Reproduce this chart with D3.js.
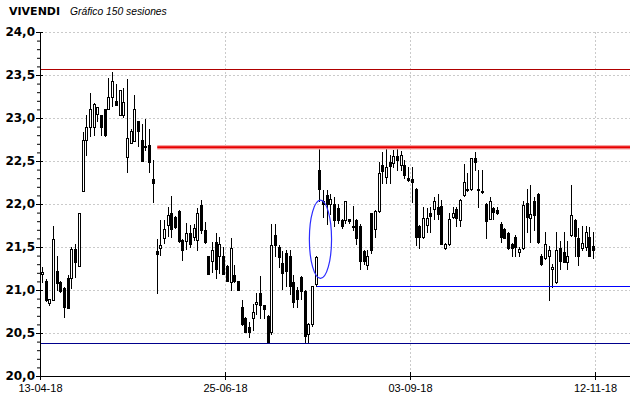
<!DOCTYPE html>
<html>
<head>
<meta charset="utf-8">
<script src="https://cdn.jsdelivr.net/npm/d3@7"></script>
<style>
body { margin: 0; background: #fff; }
svg { display: block; }
.ylab { font-family: "DejaVu Sans", sans-serif; font-weight: bold; font-size: 12px; fill: #000; }
.xlab { font-family: "Liberation Sans", Arial, sans-serif; font-size: 11px; fill: #000; }
.title { font-family: "DejaVu Sans", sans-serif; font-weight: bold; font-size: 11px; }
.subtitle { font-family: "Liberation Sans", Arial, sans-serif; font-style: italic; font-size: 10.3px; }
</style>
</head>
<body>
<div id="vis"></div>
<script>
// 150 sessions
var opens = [21.19,21.10,20.85,20.88,21.22,21.09,21.02,21.14,21.14,21.48,21.28,22.15,22.75,22.89,22.89,23.05,23.03,23.11,23.10,23.25,
  23.20,23.03,23.03,22.55,22.71,22.73,22.96,22.75,22.68,22.69,22.29,21.45,21.49,21.61,21.76,21.89,21.85,21.92,21.58,21.57,
  21.66,21.62,21.58,21.99,21.70,21.39,21.34,21.56,21.39,21.40,21.28,21.09,21.18,21.10,20.80,20.68,20.57,20.67,20.84,20.96,
  20.82,20.70,20.51,21.64,21.50,21.31,21.43,21.40,21.09,21.00,21.15,20.99,20.49,20.60,21.07,22.39,22.04,22.10,22.00,22.00,
  21.95,21.81,21.81,21.82,21.75,21.81,21.75,21.45,21.29,21.89,21.71,21.92,22.45,22.31,22.49,22.48,22.56,22.45,22.45,22.30,
  22.29,22.17,21.75,21.62,21.76,21.89,21.94,21.97,21.98,21.49,21.53,21.85,21.94,21.81,22.10,22.17,22.17,22.54,22.18,22.15,
  22.00,21.83,21.95,21.93,21.77,21.71,21.66,21.54,21.62,21.44,21.49,22.01,21.84,22.03,22.12,21.39,21.37,21.39,21.24,21.09,
  21.49,21.44,21.33,21.64,21.81,21.60,21.49,21.50,21.62,21.51];
var highs = [21.27,21.13,20.89,21.74,21.39,21.11,21.03,21.17,21.50,21.54,21.89,22.84,23.03,23.29,23.17,23.13,23.03,23.11,23.47,23.54,
  23.40,23.33,23.35,23.45,22.87,23.27,22.96,22.93,22.99,22.87,22.51,21.59,21.81,21.81,21.96,22.09,21.86,21.93,21.59,21.78,
  21.76,21.77,21.95,22.05,21.79,21.40,21.56,21.66,21.62,21.50,21.29,21.61,21.29,21.11,20.88,20.69,20.63,20.84,20.96,21.16,
  20.83,20.71,21.77,21.77,21.52,21.45,21.47,21.46,21.17,21.03,21.16,21.00,20.62,21.05,21.39,22.67,22.16,22.16,22.12,22.08,
  22.00,21.83,22.04,21.83,21.98,21.82,21.77,21.46,21.46,21.90,21.93,22.49,22.60,22.64,22.57,22.63,22.67,22.62,22.51,22.43,
  22.43,22.19,21.76,21.97,21.95,21.97,22.08,22.12,22.05,21.55,21.89,21.96,21.96,22.06,22.47,22.36,22.54,22.61,22.40,22.40,
  22.01,22.08,21.96,21.97,21.79,21.72,21.67,21.55,21.64,21.50,22.03,22.17,22.22,22.08,22.13,21.42,21.67,21.51,21.30,21.68,
  21.57,21.67,21.57,22.22,21.82,21.72,21.74,21.74,21.73,21.68];
var lows = [21.09,20.87,20.83,20.88,21.00,20.98,20.69,20.79,21.02,21.15,21.28,22.15,22.57,22.79,22.80,22.96,22.80,22.79,23.10,23.14,
  23.15,23.03,23.01,22.37,22.71,22.73,22.68,22.50,22.63,22.37,22.02,20.96,21.41,21.55,21.63,21.62,21.72,21.56,21.35,21.48,
  21.50,21.58,21.46,21.66,21.55,21.19,21.21,21.14,21.20,21.19,21.10,21.00,21.09,21.00,20.59,20.51,20.45,20.53,20.72,20.67,
  20.67,20.39,20.49,21.39,21.27,21.01,21.05,20.95,20.80,20.80,20.90,20.39,20.40,20.58,21.05,22.04,21.85,21.77,21.88,21.75,
  21.78,21.72,21.78,21.78,21.70,21.54,21.25,21.30,21.25,21.43,21.62,21.91,22.25,22.25,22.24,22.43,22.40,22.40,22.30,22.27,
  22.02,21.52,21.49,21.60,21.67,21.68,21.83,21.82,21.53,21.48,21.52,21.84,21.75,21.75,22.09,22.15,22.16,22.40,21.97,22.13,
  21.60,21.82,21.82,21.88,21.56,21.60,21.48,21.39,21.39,21.39,21.48,21.67,21.56,21.70,21.55,21.29,21.36,20.88,21.04,21.08,
  21.24,21.32,21.24,21.63,21.40,21.29,21.46,21.46,21.39,21.37];
var closes = [21.21,20.88,20.89,21.59,21.08,20.99,20.80,20.79,21.48,21.32,21.89,22.74,22.89,23.11,23.16,23.13,22.89,22.80,23.25,23.43,
  23.15,23.32,23.19,22.77,22.85,23.10,22.85,22.50,22.66,22.49,22.24,21.42,21.52,21.71,21.87,21.71,21.73,21.57,21.46,21.66,
  21.53,21.72,21.89,21.70,21.56,21.19,21.46,21.25,21.54,21.19,21.10,21.49,21.10,21.00,20.61,20.51,20.51,20.75,20.86,20.82,
  20.78,20.39,21.52,21.52,21.38,21.20,21.22,21.05,20.86,20.90,20.99,20.47,20.60,21.05,21.38,22.18,22.00,22.00,22.06,21.81,
  21.81,21.75,22.03,21.80,21.73,21.60,21.34,21.34,21.40,21.46,21.92,22.36,22.38,22.43,22.44,22.56,22.51,22.57,22.34,22.28,
  22.26,21.62,21.62,21.84,21.84,21.86,22.04,21.88,21.54,21.54,21.83,21.89,21.84,22.05,22.26,22.16,22.53,22.49,22.17,22.14,
  21.80,22.03,21.91,21.89,21.62,21.61,21.49,21.49,21.50,21.48,21.99,21.85,21.88,21.87,21.56,21.30,21.54,21.46,21.27,21.47,
  21.34,21.33,21.39,21.87,21.63,21.40,21.55,21.68,21.40,21.47];

var yTicks = [20.0,20.5,21.0,21.5,22.0,22.5,23.0,23.5,24.0];
var dateLabels = ["13-04-18","25-06-18","03-09-18","12-11-18"];
var dateSessions = [0,50,100,150];

// drawn studies: [value, first session]
var resistance = [22.66, 31.7];
var support = [21.05, 74.8];
var upperLine = 23.57;
var lowerLine = 20.38;
var ellipseCenter = [75.8, 21.59];
var ellipseRadius = [3.0, 0.455];

var width = 640, height = 398;
var plotLeft = 40, plotRight = 630, plotTop = 32, plotBottom = 376;

var svg = d3.select("#vis").append("svg")
    .attr("width", width)
    .attr("height", height);

var x = d3.scaleLinear().domain([0, 150]).range([plotLeft, 595]);
var y = d3.scaleLinear().domain([20, 24]).range([plotBottom, plotTop]);

// title
svg.append("text").attr("class", "title").attr("x", 9).attr("y", 15).text("VIVENDI");
svg.append("text").attr("class", "subtitle").attr("x", 70).attr("y", 15).text("Gráfico 150 sesiones");

// grid
var grid = svg.append("g");
grid.selectAll("line.h")
    .data(yTicks.filter(function(v){ return v > 20; }))
    .enter().append("line")
    .attr("x1", plotLeft + 1).attr("x2", plotRight)
    .attr("y1", function(d){ return Math.round(y(d)) + 0.5; })
    .attr("y2", function(d){ return Math.round(y(d)) + 0.5; })
    .attr("stroke", "#cacaca")
    .attr("stroke-dasharray", "2,2");
grid.selectAll("line.v")
    .data(dateSessions.slice(1))
    .enter().append("line")
    .attr("x1", function(d){ return Math.round(x(d)) + 0.5; })
    .attr("x2", function(d){ return Math.round(x(d)) + 0.5; })
    .attr("y1", plotTop).attr("y2", plotBottom)
    .attr("stroke", "#cacaca")
    .attr("stroke-dasharray", "2,2");

// horizontal studies
svg.append("line")
    .attr("x1", plotLeft).attr("x2", plotRight)
    .attr("y1", Math.round(y(upperLine)) + 0.5).attr("y2", Math.round(y(upperLine)) + 0.5)
    .attr("stroke", "#b00000").attr("stroke-width", 1);
svg.append("line")
    .attr("x1", plotLeft).attr("x2", plotRight)
    .attr("y1", Math.round(y(lowerLine)) + 0.5).attr("y2", Math.round(y(lowerLine)) + 0.5)
    .attr("stroke", "#00008c").attr("stroke-width", 1);

// candles
var candles = d3.range(opens.length).map(function(i){
    return {i: i, o: opens[i], h: highs[i], l: lows[i], c: closes[i]};
});

var cg = svg.append("g").selectAll("g")
    .data(candles)
    .enter().append("g");

cg.append("line")
    .attr("x1", function(d){ return Math.round(x(d.i + 0.5)) + 0.5; })
    .attr("x2", function(d){ return Math.round(x(d.i + 0.5)) + 0.5; })
    .attr("y1", function(d){ return Math.round(y(d.h)); })
    .attr("y2", function(d){ return Math.round(y(d.l)) + 1; })
    .attr("stroke", "#000");

cg.append("rect")
    .attr("x", function(d){ return Math.round(x(d.i + 0.5)) - 0.5; })
    .attr("y", function(d){ return Math.round(y(Math.max(d.o, d.c))) + 0.5; })
    .attr("width", 2)
    .attr("height", function(d){
        return Math.max(1, Math.round(y(Math.min(d.o, d.c))) - Math.round(y(Math.max(d.o, d.c))));
    })
    .attr("fill", function(d){ return d.c >= d.o ? "#fff" : "#000"; })
    .attr("stroke", "#000");

// resistance (thick red) and support (blue)
svg.append("line")
    .attr("x1", x(resistance[1])).attr("x2", plotRight)
    .attr("y1", y(resistance[0])).attr("y2", y(resistance[0]))
    .attr("stroke", "#f5a3a3").attr("stroke-width", 4.5);
svg.append("line")
    .attr("x1", x(resistance[1])).attr("x2", plotRight)
    .attr("y1", y(resistance[0])).attr("y2", y(resistance[0]))
    .attr("stroke", "#e80000").attr("stroke-width", 2.2);
svg.append("line")
    .attr("x1", x(support[1])).attr("x2", plotRight)
    .attr("y1", Math.round(y(support[0])) + 0.5).attr("y2", Math.round(y(support[0])) + 0.5)
    .attr("stroke", "#0000ff").attr("stroke-width", 1.2);

svg.append("ellipse")
    .attr("cx", x(ellipseCenter[0]))
    .attr("cy", y(ellipseCenter[1]))
    .attr("rx", x(ellipseRadius[0]) - x(0))
    .attr("ry", y(20) - y(20 + ellipseRadius[1]))
    .attr("fill", "none")
    .attr("stroke", "#2b2bff")
    .attr("stroke-width", 1.2);

// y axis
var fmt = function(v){ return d3.format(".1f")(v).replace(".", ","); };
var yMinor = svg.append("g")
    .attr("transform", "translate(" + plotLeft + ",0)")
    .call(d3.axisLeft(y).tickValues(d3.range(200, 241).map(function(v){ return v / 10; }))
        .tickSize(3).tickFormat(""));
yMinor.select(".domain").remove();

var yAxis = svg.append("g")
    .attr("transform", "translate(" + plotLeft + ",0)")
    .call(d3.axisLeft(y).tickValues(yTicks).tickSize(4).tickPadding(1).tickFormat(fmt));
yAxis.select(".domain").remove();
yAxis.selectAll("text").attr("class", "ylab").attr("font-family", null).attr("font-size", null);
yAxis.selectAll(".tick line").attr("x2", 3).attr("x1", -4);

svg.append("line")
    .attr("x1", plotLeft + 0.5).attr("x2", plotLeft + 0.5)
    .attr("y1", plotTop).attr("y2", plotBottom + 1)
    .attr("stroke", "#000");

// x axis
var xAxis = svg.append("g")
    .attr("transform", "translate(0," + plotBottom + ")")
    .call(d3.axisBottom(x).tickValues(dateSessions).tickSize(4).tickPadding(4)
        .tickFormat(function(d, i){ return dateLabels[i]; }));
xAxis.select(".domain").remove();
xAxis.selectAll("text").attr("class", "xlab").attr("font-family", null).attr("font-size", null);
xAxis.selectAll(".tick line").attr("y1", -4);

svg.append("line")
    .attr("x1", plotLeft).attr("x2", plotRight)
    .attr("y1", plotBottom + 0.5).attr("y2", plotBottom + 0.5)
    .attr("stroke", "#000");
</script>
</body>
</html>
